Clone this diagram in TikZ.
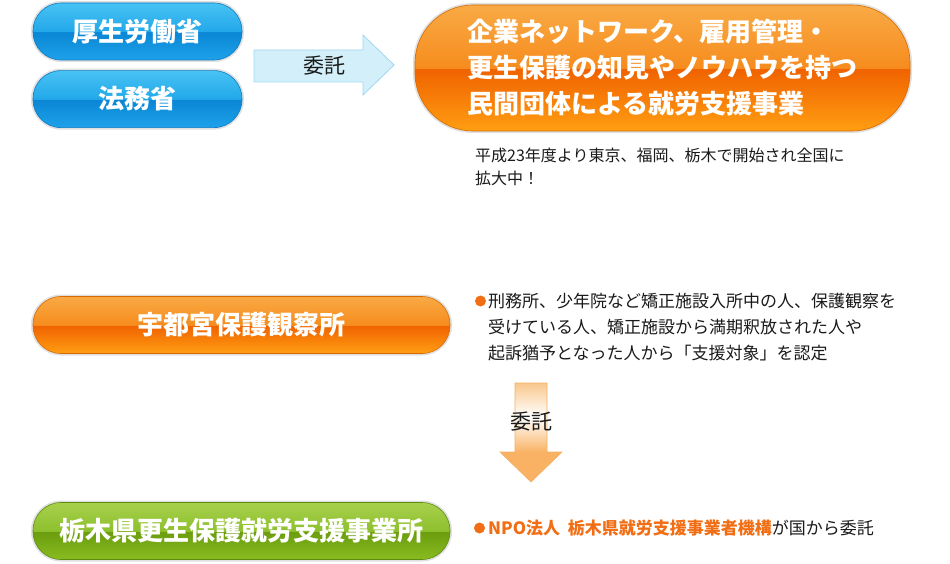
\documentclass[tikz,border=0pt]{standalone}
\usepackage{fontspec}
\setmainfont{Noto Sans CJK JP}
\usepackage{xcolor}
\usepackage{tikz}
\usetikzlibrary{positioning}
\definecolor{bluetop}{HTML}{48C2F3}
\definecolor{blueup}{HTML}{22A8EA}
\definecolor{bluelow}{HTML}{0A86D4}
\definecolor{bluebot}{HTML}{1EA2EA}
\definecolor{blueedge}{HTML}{0B7CC4}
\definecolor{orangetop}{HTML}{F9AA45}
\definecolor{orangeup}{HTML}{F68C1E}
\definecolor{orangelow}{HTML}{F06200}
\definecolor{orangebot}{HTML}{FF9E12}
\definecolor{orangeedge}{HTML}{D66A00}
\definecolor{greentop}{HTML}{A8D04C}
\definecolor{greenup}{HTML}{8DC02E}
\definecolor{greenlow}{HTML}{6A9C0E}
\definecolor{greenbot}{HTML}{88BC20}
\definecolor{greenedge}{HTML}{5C8C0E}
\definecolor{accentorange}{HTML}{F26E14}
\definecolor{textblack}{HTML}{1A1A1A}
\definecolor{skyfill}{HTML}{D3F0FA}
\definecolor{skylight}{HTML}{F0FBFE}
\definecolor{skyedge}{HTML}{9ED8EE}
\definecolor{peachtop}{HTML}{F9C78C}
\definecolor{peachhead}{HTML}{F9B264}
\definecolor{peachedge}{HTML}{F5B063}
% glossy pill fills
\pgfdeclareverticalshading{glossblue}{100bp}{color(0bp)=(bluebot); color(25bp)=(bluebot); color(49.6bp)=(bluelow); color(50bp)=(blueup); color(75bp)=(bluetop); color(100bp)=(bluetop)}
\pgfdeclareverticalshading{glossorange}{100bp}{color(0bp)=(orangebot); color(25bp)=(orangebot); color(49.6bp)=(orangelow); color(50bp)=(orangeup); color(75bp)=(orangetop); color(100bp)=(orangetop)}
\pgfdeclareverticalshading{glossgreen}{100bp}{color(0bp)=(greenbot); color(25bp)=(greenbot); color(49.6bp)=(greenlow); color(50bp)=(greenup); color(75bp)=(greentop); color(100bp)=(greentop)}
\pgfdeclareverticalshading{peachfade}{100bp}{color(0bp)=(peachhead); color(40bp)=(peachhead); color(58bp)=(white); color(75bp)=(peachtop); color(100bp)=(peachtop)}

\begin{document}
\begin{tikzpicture}[x=1pt, y=-1pt,
    pill/.style={rectangle, rounded corners=28pt, minimum height=57pt, inner sep=0pt,
        text=white, font=\bfseries\fontsize{26pt}{30pt}\selectfont,
        preaction={draw=black!12, line width=4pt}, line width=0.6pt, shade},
    bluepill/.style={pill, shading=glossblue, draw=blueedge, minimum width=209pt},
    orangepill/.style={pill, shading=glossorange, draw=orangeedge, minimum width=417pt},
    greenpill/.style={pill, shading=glossgreen, draw=greenedge, minimum width=417pt},
    bodytext/.style={inner sep=0pt, anchor=west, align=left, text=textblack},
    dot/.style={circle, fill=accentorange, minimum size=11pt, inner sep=0pt},
    arrowlabel/.style={inner sep=0pt, text=textblack, font=\fontsize{21pt}{24pt}\selectfont},
    skyarrow/.style={draw=skyedge, line width=0.8pt, top color=skyfill, middle color=skylight, bottom color=skyfill},
    peacharrow/.style={draw=peachedge, line width=0.6pt, shade, shading=peachfade}]
    \path[fill=white, use as bounding box] (0,0) rectangle (950,564);

    % ministries
    \node[bluepill] (mhlw) at (137.5,31.5) {厚生労働省};
    \node[bluepill, below=10pt of mhlw] (moj) {法務省};
    \draw[skyarrow] (254,50) -- (363,50) -- (363,35) -- (394,65) -- (363,95) -- (363,82) -- (254,82) -- cycle;
    \node[arrowlabel] (entrust1) at (324,66) {委託};
    \node[orangepill, minimum width=495pt, minimum height=126pt, rounded corners=58pt,
        align=left, font=\bfseries\fontsize{26pt}{36pt}\selectfont] (jobsupport) at (662.5,68)
        {企業ネットワーク、雇用管理・\\更生保護の知見やノウハウを持つ\\民間団体による就労支援事業};
    \node[bodytext, font=\fontsize{16pt}{23pt}\selectfont] (note) at (475,166.5)
        {平成23年度より東京、福岡、栃木で開始され全国に\\拡大中！};

    % probation office
    \node[orangepill] (probation) at (241.5,325) {宇都宮保護観察所};
    \node[dot] (dot1) at (480.5,301) {};
    \node[bodytext, font=\fontsize{17pt}{26pt}\selectfont] (targets) at (488,327)
        {刑務所、少年院など矯正施設入所中の人、保護観察を\\受けている人、矯正施設から満期釈放された人や\\起訴猶予となった人から「支援対象」を認定};
    \draw[peacharrow] (515,383) -- (547,383) -- (547,452) -- (562,452) -- (531,482) -- (500,452) -- (515,452) -- cycle;
    \node[arrowlabel] (entrust2) at (531,422) {委託};

    % support office
    \node[greenpill] (tochigi) at (241.5,531) {栃木県更生保護就労支援事業所};
    \node[dot] (dot2) at (479.5,528) {};
    \node[bodytext, font=\fontsize{17pt}{20pt}\selectfont] (npo) at (488,528)
        {{\bfseries\color{accentorange}NPO法人\hspace{0.45em}栃木県就労支援事業者機構}が国から委託};
\end{tikzpicture}
\end{document}
